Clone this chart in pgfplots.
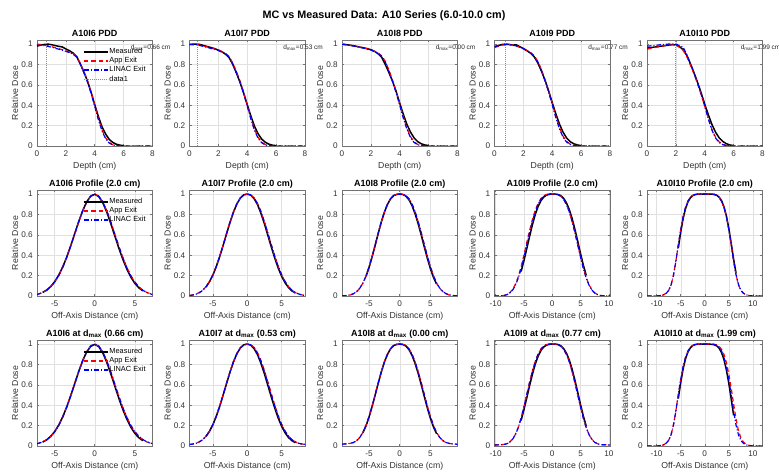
\documentclass[border=0pt]{standalone}
\usepackage{fontspec}
\setmainfont{Liberation Sans}
\usepackage{pgfplots}
\usepackage{pgfplotstable}
\pgfplotsset{compat=1.18}

\definecolor{cMeas}{RGB}{0,0,0}
\definecolor{cApp}{RGB}{255,0,0}
\definecolor{cLin}{RGB}{0,0,255}

\newcommand\tickfont{\fontsize{8.2bp}{9.5bp}\selectfont}
\newcommand\labfont{\fontsize{8.7bp}{10bp}\selectfont}
\newcommand\titfont{\fontsize{9bp}{10.5bp}\selectfont\bfseries}
\newcommand\legfont{\fontsize{7.4bp}{8.5bp}\selectfont}
\newcommand\dfont{\fontsize{6.5bp}{7.5bp}\selectfont}

% ---------- PDD: simulated (a = App Exit, l = LINAC Exit) ----------
\pgfplotstableread{
x a l
0 1.000 0.990
0.5 0.990 0.985
1 0.975 0.970
1.5 0.955 0.950
2 0.935 0.930
2.5 0.905 0.900
2.75 0.880 0.872
3 0.810 0.802
3.25 0.730 0.718
3.5 0.640 0.627
3.75 0.530 0.516
4 0.400 0.388
4.25 0.270 0.258
4.5 0.160 0.150
4.75 0.080 0.072
5 0.035 0.030
5.25 0.012 0.010
5.5 0.004 0.003
6 0 0
6.5 0 0
7 0 0
7.5 0 0
8 0 0
}\pddSimA
\pgfplotstableread{
x a l
0 1.000 0.995
0.5 0.995 0.993
1 0.980 0.976
1.5 0.962 0.957
2 0.942 0.937
2.5 0.908 0.903
2.75 0.878 0.872
3 0.812 0.805
3.25 0.732 0.722
3.5 0.637 0.626
3.75 0.527 0.515
4 0.402 0.390
4.25 0.276 0.264
4.5 0.166 0.155
4.75 0.085 0.076
5 0.038 0.032
5.25 0.014 0.011
5.5 0.005 0.003
6 0.001 0
6.5 0 0
7 0 0
7.5 0 0
8 0 0
}\pddSimB
\pgfplotstableread{
x a l
0 1.000 0.998
0.5 0.990 0.989
1 0.977 0.975
1.5 0.962 0.960
2 0.945 0.942
2.5 0.912 0.908
2.75 0.885 0.880
3 0.830 0.822
3.25 0.745 0.735
3.5 0.645 0.634
3.75 0.535 0.522
4 0.410 0.398
4.25 0.285 0.272
4.5 0.175 0.163
4.75 0.090 0.082
5 0.040 0.034
5.25 0.015 0.012
5.5 0.005 0.004
6 0.001 0
6.5 0 0
7 0 0
7.5 0 0
8 0 0
}\pddSimC
\pgfplotstableread{
x a l
0 0.965 0.975
0.5 0.990 0.992
1 0.995 0.996
1.5 0.980 0.982
2 0.955 0.957
2.5 0.915 0.915
2.75 0.885 0.883
3 0.830 0.826
3.25 0.750 0.743
3.5 0.650 0.641
3.75 0.540 0.529
4 0.415 0.403
4.25 0.290 0.278
4.5 0.180 0.168
4.75 0.095 0.086
5 0.045 0.038
5.25 0.018 0.014
5.5 0.006 0.004
6 0.001 0
6.5 0 0
7 0 0
7.5 0 0
8 0 0
}\pddSimD
\pgfplotstableread{
x a l
0 0.950 0.980
0.5 0.965 0.985
1 0.980 0.995
1.5 0.990 1.000
2 0.995 1.000
2.5 0.940 0.970
2.75 0.880 0.900
3 0.795 0.810
3.25 0.710 0.720
3.5 0.610 0.620
3.75 0.505 0.510
4 0.390 0.390
4.25 0.270 0.265
4.5 0.160 0.155
4.75 0.085 0.078
5 0.040 0.034
5.25 0.016 0.013
5.5 0.006 0.004
6 0.001 0
6.5 0 0
7 0 0
7.5 0 0
8 0 0
}\pddSimE

% ---------- PDD: measured ----------
\pgfplotstableread{
x m
0 0.980
0.25 0.990
0.5 0.996
0.75 1.000
1 0.994
1.25 0.986
1.5 0.978
1.75 0.972
2 0.952
2.25 0.935
2.5 0.912
2.75 0.878
3 0.805
3.25 0.725
3.5 0.635
3.75 0.525
4 0.405
4.25 0.290
4.5 0.190
4.75 0.118
5 0.065
5.25 0.035
5.5 0.017
5.75 0.008
6 0.003
}\pddMeasA
\pgfplotstableread{
x m
0 0.995
0.25 1.000
0.53 1.000
0.75 0.995
1 0.985
1.25 0.975
1.5 0.965
1.75 0.955
2 0.940
2.25 0.925
2.5 0.900
2.75 0.865
3 0.800
3.25 0.715
3.5 0.625
3.75 0.520
4 0.405
4.25 0.295
4.5 0.195
4.75 0.120
5 0.068
5.25 0.037
5.5 0.018
5.75 0.008
6 0.003
}\pddMeasB
\pgfplotstableread{
x m
0 1.000
0.25 0.995
0.5 0.990
0.75 0.985
1 0.978
1.25 0.970
1.5 0.963
1.75 0.955
2 0.945
2.25 0.930
2.5 0.905
2.75 0.870
3 0.800
3.25 0.720
3.5 0.635
3.75 0.535
4 0.420
4.25 0.310
4.5 0.210
4.75 0.135
5 0.078
5.25 0.042
5.5 0.021
5.75 0.010
6 0.004
}\pddMeasC
\pgfplotstableread{
x m
0 0.975
0.25 0.985
0.5 0.995
0.75 1.000
1 0.997
1.25 0.990
1.5 0.992
1.75 0.975
2 0.955
2.25 0.935
2.5 0.910
2.75 0.875
3 0.815
3.25 0.735
3.5 0.645
3.75 0.540
4 0.425
4.25 0.315
4.5 0.215
4.75 0.135
5 0.078
5.25 0.042
5.5 0.021
5.75 0.010
6 0.004
}\pddMeasD
\pgfplotstableread{
x m
0 0.960
0.25 0.965
0.5 0.970
0.75 0.975
1 0.980
1.25 0.985
1.5 0.990
1.75 0.995
2 0.990
2.25 0.975
2.5 0.945
2.75 0.890
3 0.810
3.25 0.720
3.5 0.625
3.75 0.520
4 0.410
4.25 0.305
4.5 0.210
4.75 0.135
5 0.080
5.25 0.045
5.5 0.022
5.75 0.010
6 0.004
}\pddMeasE

% ---------- Profiles at 2.0 cm (a, l, m) ----------
\pgfplotstableread{
x a l m
-7.2 0.016 0.014 nan
-7.0 0.020 0.019 nan
-6.5 0.035 0.034 0.035
-6.0 0.057 0.056 0.058
-5.5 0.090 0.089 0.092
-5.0 0.137 0.136 0.140
-4.5 0.199 0.198 0.203
-4.0 0.280 0.279 0.284
-3.5 0.377 0.377 0.381
-3.0 0.488 0.488 0.492
-2.5 0.608 0.607 0.611
-2.0 0.727 0.726 0.730
-1.5 0.836 0.835 0.838
-1.0 0.923 0.922 0.924
-0.5 0.980 0.980 0.980
0 1.000 1.000 0.998
0.5 0.980 0.980 0.976
1.0 0.923 0.922 0.915
1.5 0.836 0.835 0.823
2.0 0.727 0.726 0.710
2.5 0.608 0.607 0.590
3.0 0.488 0.488 0.470
3.5 0.377 0.377 0.360
4.0 0.280 0.279 0.264
4.5 0.199 0.198 0.185
5.0 0.137 0.136 0.124
5.5 0.090 0.089 0.080
6.0 0.057 0.056 0.050
6.5 0.035 0.034 nan
7.0 0.020 0.019 nan
7.2 0.016 0.014 nan
}\profA
\pgfplotstableread{
x a l m
-8.4 0.006 0.004 nan
-8.0 0.010 0.008 nan
-7.5 0.018 0.016 nan
-7.0 0.033 0.031 nan
-6.5 0.056 0.054 nan
-6.0 0.091 0.090 0.088
-5.5 0.141 0.140 0.139
-5.0 0.207 0.206 0.205
-4.5 0.291 0.290 0.289
-4.0 0.390 0.389 0.388
-3.5 0.500 0.499 0.498
-3.0 0.615 0.614 0.613
-2.5 0.726 0.725 0.724
-2.0 0.826 0.825 0.824
-1.5 0.906 0.905 0.905
-1.0 0.962 0.962 0.962
-0.5 0.992 0.992 0.993
0 1.000 1.000 1.000
0.5 0.992 0.992 0.990
1.0 0.962 0.962 0.955
1.5 0.906 0.906 0.895
2.0 0.826 0.826 0.810
2.5 0.726 0.727 0.707
3.0 0.615 0.616 0.594
3.5 0.500 0.501 0.480
4.0 0.390 0.391 0.371
4.5 0.291 0.292 0.274
5.0 0.207 0.208 0.193
5.5 0.141 0.142 0.130
6.0 0.091 0.092 0.083
6.5 0.056 0.057 0.050
7.0 0.033 0.034 0.029
7.5 0.018 0.019 nan
8.0 0.010 0.010 nan
8.4 0.006 0.005 nan
}\profB
\pgfplotstableread{
x a l m
-9.4 0.001 0.002 nan
-9.0 0.002 0.003 nan
-8.5 0.005 0.006 nan
-8.0 0.011 0.012 nan
-7.5 0.023 0.024 nan
-7.0 0.043 0.044 nan
-6.5 0.076 0.077 nan
-6.0 0.126 0.127 nan
-5.5 0.194 0.195 0.192
-5.0 0.282 0.283 0.280
-4.5 0.386 0.387 0.384
-4.0 0.500 0.501 0.498
-3.5 0.617 0.618 0.615
-3.0 0.727 0.728 0.726
-2.5 0.823 0.824 0.822
-2.0 0.899 0.900 0.899
-1.5 0.952 0.953 0.953
-1.0 0.984 0.985 0.985
-0.5 0.997 0.997 0.997
0 1.000 1.000 1.000
0.5 0.997 0.997 0.996
1.0 0.984 0.985 0.980
1.5 0.952 0.954 0.944
2.0 0.899 0.902 0.886
2.5 0.823 0.827 0.806
3.0 0.727 0.732 0.708
3.5 0.617 0.622 0.597
4.0 0.500 0.505 0.480
4.5 0.386 0.391 0.368
5.0 0.282 0.286 0.266
5.5 0.194 0.197 0.181
6.0 0.126 0.128 0.116
6.5 0.076 0.078 nan
7.0 0.043 0.045 nan
7.5 0.023 0.024 nan
8.0 0.011 0.012 nan
8.5 0.005 0.006 nan
9.0 0.002 0.003 nan
9.4 0.001 0.002 nan
}\profC
\pgfplotstableread{
x a l m
-10.2 0.000 0.000 nan
-9.5 0.001 0.001 nan
-9.0 0.002 0.002 nan
-8.5 0.006 0.005 nan
-8.0 0.015 0.013 nan
-7.5 0.033 0.029 nan
-7.0 0.065 0.058 nan
-6.5 0.116 0.106 nan
-6.0 0.190 0.175 nan
-5.5 0.287 0.268 0.240
-5.0 0.402 0.379 0.346
-4.5 0.524 0.500 0.464
-4.0 0.644 0.622 0.585
-3.5 0.752 0.733 0.700
-3.0 0.842 0.828 0.800
-2.5 0.910 0.900 0.878
-2.0 0.957 0.950 0.935
-1.5 0.984 0.980 0.971
-1.0 0.996 0.994 0.990
-0.5 1.000 1.000 0.998
0 1.000 1.000 1.000
0.5 1.000 1.000 1.000
1.0 0.994 0.994 0.996
1.5 0.980 0.980 0.985
2.0 0.950 0.950 0.959
2.5 0.900 0.900 0.915
3.0 0.828 0.828 0.850
3.5 0.735 0.733 0.762
4.0 0.626 0.622 0.655
4.5 0.506 0.500 0.537
5.0 0.386 0.379 0.415
5.5 0.275 0.268 0.301
6.0 0.181 0.175 0.203
6.5 0.110 0.106 nan
7.0 0.061 0.058 nan
7.5 0.031 0.029 nan
8.0 0.014 0.013 nan
8.5 0.006 0.005 nan
9.0 0.002 0.002 nan
9.5 0.001 0.001 nan
10.2 0.000 0.000 nan
}\profD
\pgfplotstableread{
x a l m
-12 0.000 0.000 nan
-11 0.000 0.000 nan
-10 0.001 0.001 nan
-9.5 0.002 0.002 nan
-9.0 0.006 0.006 nan
-8.5 0.013 0.013 nan
-8.0 0.028 0.027 nan
-7.5 0.055 0.054 nan
-7.0 0.110 0.108 nan
-6.5 0.205 0.202 nan
-6.0 0.343 0.340 nan
-5.5 0.500 0.498 0.470
-5.0 0.650 0.648 0.625
-4.5 0.776 0.775 0.758
-4.0 0.868 0.867 0.856
-3.5 0.930 0.930 0.923
-3.0 0.967 0.967 0.963
-2.5 0.987 0.987 0.985
-2.0 0.996 0.996 0.995
-1.5 0.999 0.999 0.999
-1.0 1.000 1.000 1.000
-0.5 1.000 1.000 1.000
0 1.000 1.000 1.000
0.5 1.000 1.000 1.000
1.0 1.000 1.000 1.000
1.5 0.999 0.999 0.999
2.0 0.996 0.996 0.996
2.5 0.987 0.987 0.988
3.0 0.967 0.967 0.969
3.5 0.930 0.931 0.934
4.0 0.868 0.870 0.874
4.5 0.776 0.779 0.785
5.0 0.650 0.654 0.662
5.5 0.500 0.505 0.515
6.0 0.343 0.348 0.360
6.5 0.205 0.209 0.225
7.0 0.110 0.113 nan
7.5 0.055 0.057 nan
8.0 0.028 0.029 nan
8.5 0.013 0.014 nan
9.0 0.006 0.006 nan
9.5 0.002 0.002 nan
10 0.001 0.001 nan
11 0.000 0.000 nan
12 0.000 0.000 nan
}\profE

% ---------- Profiles at d_max (a, l, m) ----------
\pgfplotstableread{
x a l m
-7.2 0.022 0.024 nan
-7.0 0.026 0.027 nan
-6.5 0.040 0.040 0.038
-6.0 0.062 0.061 0.060
-5.5 0.094 0.093 0.094
-5.0 0.140 0.139 0.141
-4.5 0.202 0.200 0.204
-4.0 0.283 0.281 0.285
-3.5 0.381 0.379 0.382
-3.0 0.492 0.490 0.493
-2.5 0.613 0.610 0.612
-2.0 0.733 0.729 0.731
-1.5 0.842 0.838 0.838
-1.0 0.928 0.925 0.923
-0.5 0.983 0.981 0.978
0 1.000 1.000 0.997
0.5 0.980 0.982 0.975
1.0 0.921 0.923 0.913
1.5 0.833 0.836 0.821
2.0 0.724 0.727 0.708
2.5 0.605 0.608 0.588
3.0 0.486 0.489 0.468
3.5 0.376 0.378 0.358
4.0 0.280 0.281 0.263
4.5 0.200 0.201 0.184
5.0 0.139 0.140 0.124
5.5 0.094 0.095 0.081
6.0 0.062 0.063 0.052
6.5 0.040 0.041 nan
7.0 0.027 0.028 nan
7.2 0.023 0.024 nan
}\dmaxA
\pgfplotstableread{
x a l m
-8.4 0.016 0.014 nan
-8.0 0.019 0.018 nan
-7.5 0.026 0.025 nan
-7.0 0.040 0.039 nan
-6.5 0.062 0.061 nan
-6.0 0.096 0.095 0.094
-5.5 0.145 0.144 0.143
-5.0 0.210 0.209 0.209
-4.5 0.294 0.293 0.292
-4.0 0.393 0.392 0.391
-3.5 0.503 0.502 0.501
-3.0 0.618 0.617 0.616
-2.5 0.729 0.728 0.727
-2.0 0.829 0.828 0.827
-1.5 0.908 0.907 0.907
-1.0 0.963 0.963 0.963
-0.5 0.993 0.992 0.993
0 1.000 1.000 1.000
0.5 0.994 0.992 0.990
1.0 0.967 0.963 0.955
1.5 0.915 0.908 0.895
2.0 0.838 0.829 0.810
2.5 0.740 0.729 0.707
3.0 0.629 0.618 0.594
3.5 0.513 0.503 0.480
4.0 0.401 0.393 0.371
4.5 0.299 0.294 0.274
5.0 0.213 0.210 0.193
5.5 0.146 0.145 0.130
6.0 0.096 0.096 0.083
6.5 0.062 0.062 0.052
7.0 0.040 0.040 0.032
7.5 0.026 0.026 nan
8.0 0.019 0.019 nan
8.4 0.016 0.016 nan
}\dmaxB
\pgfplotstableread{
x a l m
-9.4 0.020 0.018 nan
-9.0 0.021 0.019 nan
-8.5 0.023 0.022 nan
-8.0 0.027 0.026 nan
-7.5 0.036 0.035 nan
-7.0 0.054 0.053 nan
-6.5 0.085 0.084 nan
-6.0 0.133 0.132 0.130
-5.5 0.200 0.199 0.197
-5.0 0.287 0.286 0.284
-4.5 0.390 0.389 0.388
-4.0 0.503 0.502 0.501
-3.5 0.619 0.618 0.617
-3.0 0.729 0.728 0.727
-2.5 0.824 0.824 0.823
-2.0 0.900 0.900 0.899
-1.5 0.953 0.953 0.953
-1.0 0.985 0.985 0.985
-0.5 0.998 0.997 0.997
0 1.000 1.000 1.000
0.5 0.997 0.997 0.996
1.0 0.985 0.985 0.981
1.5 0.953 0.953 0.946
2.0 0.900 0.900 0.889
2.5 0.824 0.824 0.810
3.0 0.729 0.729 0.712
3.5 0.619 0.619 0.601
4.0 0.503 0.503 0.484
4.5 0.389 0.389 0.371
5.0 0.286 0.286 0.269
5.5 0.199 0.199 0.185
6.0 0.132 0.132 0.120
6.5 0.084 0.084 nan
7.0 0.053 0.053 nan
7.5 0.035 0.035 nan
8.0 0.026 0.026 nan
8.5 0.021 0.021 nan
9.0 0.018 0.019 nan
9.4 0.016 0.017 nan
}\dmaxC
\pgfplotstableread{
x a l m
-10.2 0.012 0.010 nan
-9.5 0.012 0.011 nan
-9.0 0.013 0.012 nan
-8.5 0.016 0.015 nan
-8.0 0.024 0.022 nan
-7.5 0.040 0.038 nan
-7.0 0.068 0.066 nan
-6.5 0.115 0.113 nan
-6.0 0.183 0.181 nan
-5.5 0.276 0.273 0.250
-5.0 0.386 0.383 0.356
-4.5 0.506 0.503 0.472
-4.0 0.626 0.624 0.592
-3.5 0.736 0.734 0.705
-3.0 0.830 0.829 0.804
-2.5 0.901 0.900 0.881
-2.0 0.951 0.950 0.937
-1.5 0.981 0.980 0.972
-1.0 0.995 0.994 0.990
-0.5 1.000 1.000 0.998
0 1.000 1.000 1.000
0.5 1.000 1.000 1.000
1.0 0.994 0.994 0.996
1.5 0.980 0.980 0.984
2.0 0.950 0.950 0.957
2.5 0.901 0.900 0.912
3.0 0.829 0.828 0.845
3.5 0.734 0.733 0.755
4.0 0.624 0.622 0.646
4.5 0.503 0.501 0.527
5.0 0.383 0.381 0.405
5.5 0.273 0.271 0.292
6.0 0.181 0.179 0.195
6.5 0.113 0.111 nan
7.0 0.066 0.064 nan
7.5 0.038 0.036 nan
8.0 0.022 0.021 nan
8.5 0.015 0.014 nan
9.0 0.012 0.012 nan
9.5 0.011 0.011 nan
10.2 0.010 0.010 nan
}\dmaxD
\pgfplotstableread{
x a l m
-12 0.000 0.000 nan
-11 0.000 0.000 nan
-10 0.001 0.001 nan
-9.5 0.002 0.002 nan
-9.0 0.006 0.006 nan
-8.5 0.013 0.013 nan
-8.0 0.028 0.028 nan
-7.5 0.056 0.055 nan
-7.0 0.112 0.110 nan
-6.5 0.208 0.205 nan
-6.0 0.346 0.343 nan
-5.5 0.502 0.500 0.465
-5.0 0.651 0.650 0.620
-4.5 0.777 0.776 0.755
-4.0 0.869 0.868 0.855
-3.5 0.930 0.930 0.922
-3.0 0.967 0.967 0.963
-2.5 0.987 0.987 0.985
-2.0 0.996 0.996 0.995
-1.5 0.999 0.999 0.999
-1.0 1.000 1.000 1.000
-0.5 1.000 1.000 1.000
0 1.000 1.000 1.000
0.5 1.000 1.000 1.000
1.0 1.000 1.000 0.999
1.5 1.000 0.999 0.997
2.0 0.998 0.996 0.993
2.5 0.992 0.987 0.982
3.0 0.977 0.967 0.958
3.5 0.948 0.930 0.915
4.0 0.898 0.868 0.846
4.5 0.818 0.776 0.746
5.0 0.706 0.650 0.614
5.5 0.566 0.500 0.460
6.0 0.412 0.343 0.300
6.5 0.265 0.205 nan
7.0 0.152 0.110 nan
7.5 0.080 0.055 nan
8.0 0.040 0.028 nan
8.5 0.020 0.013 nan
9.0 0.009 0.006 nan
9.5 0.004 0.002 nan
10 0.002 0.001 nan
11 0.000 0.000 nan
12 0.000 0.000 nan
}\dmaxE

\tikzset{
  dtext/.style={anchor=west, font=\dfont, inner sep=0pt, text=black!85},
}

\pgfplotsset{
  every axis title shift=0pt,
  panel/.style={
    scale only axis, width=115.5bp, height=106bp, anchor=south west,
    ymin=0, ymax=1.04,
    ytick={0,0.2,0.4,0.6,0.8,1}, yticklabels={0,0.2,0.4,0.6,0.8,1},
    grid=major, grid style={line width=0.35bp, draw=black!12},
    axis line style={draw=black!55, line width=0.5bp},
    tick style={draw=black!55, line width=0.5bp},
    tick align=inside, major tick length=2.2bp,
    ticklabel style={font=\tickfont, text=black!80},
    xticklabel style={yshift=-1.5bp},
    yticklabel style={xshift=-0.8bp},
    label style={font=\labfont, text=black!80},
    title style={font=\titfont, at={(0.5,1)}, anchor=base, yshift=3.6bp},
    xlabel style={at={(0.5,-0.19)}, anchor=center},
    ylabel style={at={(-0.19,0.5)}, anchor=center},
    ylabel={Relative Dose},
    clip mode=individual,
    legend cell align=left,
  },
  pdd/.style={panel, xmin=0, xmax=8, xtick={0,2,4,6,8}, xticklabels={0,2,4,6,8},
    xlabel={Depth (cm)}},
  prof/.style={panel, xlabel={Off-Axis Distance (cm)}},
  narrow/.style={xtick={-5,0,5}, xticklabels={-5,0,5}},
  wide/.style={xtick={-10,-5,0,5,10}, xticklabels={-10,-5,0,5,10}},
  leg/.style={legend style={at={(0.37,0.95)}, anchor=north west, draw=none, fill=none,
    font=\legfont, row sep=0.2bp, nodes={inner sep=1bp}}},
  imgMeas/.style={legend image code/.code={\draw[draw=cMeas, line width=1.5bp] (0bp,0bp) -- (24bp,0bp);}},
  imgApp/.style={legend image code/.code={\draw[draw=cApp, line width=1.3bp, dash pattern=on 4.5bp off 3bp] (0bp,0bp) -- (24bp,0bp);}},
  imgLin/.style={legend image code/.code={\draw[draw=cLin, line width=1.4bp, dash pattern=on 5bp off 2bp on 1.2bp off 2bp] (0bp,0bp) -- (24bp,0bp);}},
  imgDm/.style={legend image code/.code={\draw[draw=black!45, line width=0.5bp, dash pattern=on 0.8bp off 1.2bp] (0bp,0bp) -- (24bp,0bp);}},
}

\begin{document}
\begin{tikzpicture}
\path[use as bounding box] (0,0) rectangle (779bp,472bp);
\node[font=\fontsize{10.8bp}{12bp}\selectfont\bfseries] at (384bp,456bp)
  {MC vs Measured Data: A10 Series (6.0-10.0 cm)};

% ================= Row 1: PDD =================
\begin{axis}[pdd, leg, at={(37bp,326bp)}, title={A10I6 PDD}]
\addplot[cMeas, line width=1.5bp, forget plot] table[x=x,y=m]{\pddMeasA};
\addplot[cApp, line width=1.2bp, dash pattern=on 4.5bp off 3bp, forget plot] table[x=x,y=a]{\pddSimA};
\addplot[cLin, line width=1.2bp, dash pattern=on 4.5bp off 2bp on 1bp off 2bp, forget plot] table[x=x,y=l]{\pddSimA};
\addplot[black!45, line width=0.5bp, dash pattern=on 0.8bp off 1.2bp, forget plot] coordinates {(0.66,0) (0.66,1.04)};
\addlegendimage{imgMeas}\addlegendentry{Measured}
\addlegendimage{imgApp}\addlegendentry{App Exit}
\addlegendimage{imgLin}\addlegendentry{LINAC Exit}
\addlegendimage{imgDm}\addlegendentry{data1}
\node[dtext] at (rel axis cs:0.81,0.925) {d\textsubscript{max}=0.66 cm};
\end{axis}

\begin{axis}[pdd, at={(189.5bp,326bp)}, title={A10I7 PDD}]
\addplot[cMeas, line width=1.5bp] table[x=x,y=m]{\pddMeasB};
\addplot[cApp, line width=1.2bp, dash pattern=on 4.5bp off 3bp] table[x=x,y=a]{\pddSimB};
\addplot[cLin, line width=1.2bp, dash pattern=on 4.5bp off 2bp on 1bp off 2bp] table[x=x,y=l]{\pddSimB};
\addplot[black!45, line width=0.5bp, dash pattern=on 0.8bp off 1.2bp] coordinates {(0.53,0) (0.53,1.04)};
\node[dtext] at (rel axis cs:0.81,0.925) {d\textsubscript{max}=0.53 cm};
\end{axis}

\begin{axis}[pdd, at={(342bp,326bp)}, title={A10I8 PDD}]
\addplot[cMeas, line width=1.5bp] table[x=x,y=m]{\pddMeasC};
\addplot[cApp, line width=1.2bp, dash pattern=on 4.5bp off 3bp] table[x=x,y=a]{\pddSimC};
\addplot[cLin, line width=1.2bp, dash pattern=on 4.5bp off 2bp on 1bp off 2bp] table[x=x,y=l]{\pddSimC};
\addplot[black!45, line width=0.5bp, dash pattern=on 0.8bp off 1.2bp] coordinates {(0,0) (0,1.04)};
\node[dtext] at (rel axis cs:0.81,0.925) {d\textsubscript{max}=0.00 cm};
\end{axis}

\begin{axis}[pdd, at={(494.5bp,326bp)}, title={A10I9 PDD}]
\addplot[cMeas, line width=1.5bp] table[x=x,y=m]{\pddMeasD};
\addplot[cApp, line width=1.2bp, dash pattern=on 4.5bp off 3bp] table[x=x,y=a]{\pddSimD};
\addplot[cLin, line width=1.2bp, dash pattern=on 4.5bp off 2bp on 1bp off 2bp] table[x=x,y=l]{\pddSimD};
\addplot[black!45, line width=0.5bp, dash pattern=on 0.8bp off 1.2bp] coordinates {(0.77,0) (0.77,1.04)};
\node[dtext] at (rel axis cs:0.81,0.925) {d\textsubscript{max}=0.77 cm};
\end{axis}

\begin{axis}[pdd, at={(647bp,326bp)}, title={A10I10 PDD}]
\addplot[cMeas, line width=1.5bp] table[x=x,y=m]{\pddMeasE};
\addplot[cApp, line width=1.2bp, dash pattern=on 4.5bp off 3bp] table[x=x,y=a]{\pddSimE};
\addplot[cLin, line width=1.2bp, dash pattern=on 4.5bp off 2bp on 1bp off 2bp] table[x=x,y=l]{\pddSimE};
\addplot[black!45, line width=0.5bp, dash pattern=on 0.8bp off 1.2bp] coordinates {(1.99,0) (1.99,1.04)};
\node[dtext] at (rel axis cs:0.81,0.925) {d\textsubscript{max}=1.99 cm};
\end{axis}

% ================= Row 2: profiles at 2.0 cm =================
\begin{axis}[prof, narrow, leg, xmin=-7.2, xmax=7.2, at={(37bp,176bp)}, title={A10I6 Profile (2.0 cm)}]
\addplot[cMeas, line width=1.5bp, forget plot] table[x=x,y=m]{\profA};
\addplot[cApp, line width=1.2bp, dash pattern=on 4.5bp off 3bp, forget plot] table[x=x,y=a]{\profA};
\addplot[cLin, line width=1.2bp, dash pattern=on 4.5bp off 2bp on 1bp off 2bp, forget plot] table[x=x,y=l]{\profA};
\addlegendimage{imgMeas}\addlegendentry{Measured}
\addlegendimage{imgApp}\addlegendentry{App Exit}
\addlegendimage{imgLin}\addlegendentry{LINAC Exit}
\end{axis}

\begin{axis}[prof, narrow, xmin=-8.4, xmax=8.4, at={(189.5bp,176bp)}, title={A10I7 Profile (2.0 cm)}]
\addplot[cMeas, line width=1.5bp] table[x=x,y=m]{\profB};
\addplot[cApp, line width=1.2bp, dash pattern=on 4.5bp off 3bp] table[x=x,y=a]{\profB};
\addplot[cLin, line width=1.2bp, dash pattern=on 4.5bp off 2bp on 1bp off 2bp] table[x=x,y=l]{\profB};
\end{axis}

\begin{axis}[prof, narrow, xmin=-9.4, xmax=9.4, at={(342bp,176bp)}, title={A10I8 Profile (2.0 cm)}]
\addplot[cMeas, line width=1.5bp] table[x=x,y=m]{\profC};
\addplot[cApp, line width=1.2bp, dash pattern=on 4.5bp off 3bp] table[x=x,y=a]{\profC};
\addplot[cLin, line width=1.2bp, dash pattern=on 4.5bp off 2bp on 1bp off 2bp] table[x=x,y=l]{\profC};
\end{axis}

\begin{axis}[prof, wide, xmin=-10.2, xmax=10.2, at={(494.5bp,176bp)}, title={A10I9 Profile (2.0 cm)}]
\addplot[cMeas, line width=1.5bp] table[x=x,y=m]{\profD};
\addplot[cApp, line width=1.2bp, dash pattern=on 4.5bp off 3bp] table[x=x,y=a]{\profD};
\addplot[cLin, line width=1.2bp, dash pattern=on 4.5bp off 2bp on 1bp off 2bp] table[x=x,y=l]{\profD};
\end{axis}

\begin{axis}[prof, wide, xmin=-12, xmax=12, at={(647bp,176bp)}, title={A10I10 Profile (2.0 cm)}]
\addplot[cMeas, line width=1.5bp] table[x=x,y=m]{\profE};
\addplot[cApp, line width=1.2bp, dash pattern=on 4.5bp off 3bp] table[x=x,y=a]{\profE};
\addplot[cLin, line width=1.2bp, dash pattern=on 4.5bp off 2bp on 1bp off 2bp] table[x=x,y=l]{\profE};
\end{axis}

% ================= Row 3: profiles at d_max =================
\begin{axis}[prof, narrow, leg, xmin=-7.2, xmax=7.2, at={(37bp,26bp)}, title={A10I6 at d\textsubscript{max} (0.66 cm)}]
\addplot[cMeas, line width=1.5bp, forget plot] table[x=x,y=m]{\dmaxA};
\addplot[cApp, line width=1.2bp, dash pattern=on 4.5bp off 3bp, forget plot] table[x=x,y=a]{\dmaxA};
\addplot[cLin, line width=1.2bp, dash pattern=on 4.5bp off 2bp on 1bp off 2bp, forget plot] table[x=x,y=l]{\dmaxA};
\addlegendimage{imgMeas}\addlegendentry{Measured}
\addlegendimage{imgApp}\addlegendentry{App Exit}
\addlegendimage{imgLin}\addlegendentry{LINAC Exit}
\end{axis}

\begin{axis}[prof, narrow, xmin=-8.4, xmax=8.4, at={(189.5bp,26bp)}, title={A10I7 at d\textsubscript{max} (0.53 cm)}]
\addplot[cMeas, line width=1.5bp] table[x=x,y=m]{\dmaxB};
\addplot[cApp, line width=1.2bp, dash pattern=on 4.5bp off 3bp] table[x=x,y=a]{\dmaxB};
\addplot[cLin, line width=1.2bp, dash pattern=on 4.5bp off 2bp on 1bp off 2bp] table[x=x,y=l]{\dmaxB};
\end{axis}

\begin{axis}[prof, narrow, xmin=-9.4, xmax=9.4, at={(342bp,26bp)}, title={A10I8 at d\textsubscript{max} (0.00 cm)}]
\addplot[cMeas, line width=1.5bp] table[x=x,y=m]{\dmaxC};
\addplot[cApp, line width=1.2bp, dash pattern=on 4.5bp off 3bp] table[x=x,y=a]{\dmaxC};
\addplot[cLin, line width=1.2bp, dash pattern=on 4.5bp off 2bp on 1bp off 2bp] table[x=x,y=l]{\dmaxC};
\end{axis}

\begin{axis}[prof, wide, xmin=-10.2, xmax=10.2, at={(494.5bp,26bp)}, title={A10I9 at d\textsubscript{max} (0.77 cm)}]
\addplot[cMeas, line width=1.5bp] table[x=x,y=m]{\dmaxD};
\addplot[cApp, line width=1.2bp, dash pattern=on 4.5bp off 3bp] table[x=x,y=a]{\dmaxD};
\addplot[cLin, line width=1.2bp, dash pattern=on 4.5bp off 2bp on 1bp off 2bp] table[x=x,y=l]{\dmaxD};
\end{axis}

\begin{axis}[prof, wide, xmin=-12, xmax=12, at={(647bp,26bp)}, title={A10I10 at d\textsubscript{max} (1.99 cm)}]
\addplot[cMeas, line width=1.5bp] table[x=x,y=m]{\dmaxE};
\addplot[cApp, line width=1.2bp, dash pattern=on 4.5bp off 3bp] table[x=x,y=a]{\dmaxE};
\addplot[cLin, line width=1.2bp, dash pattern=on 4.5bp off 2bp on 1bp off 2bp] table[x=x,y=l]{\dmaxE};
\end{axis}
\end{tikzpicture}
\end{document}
